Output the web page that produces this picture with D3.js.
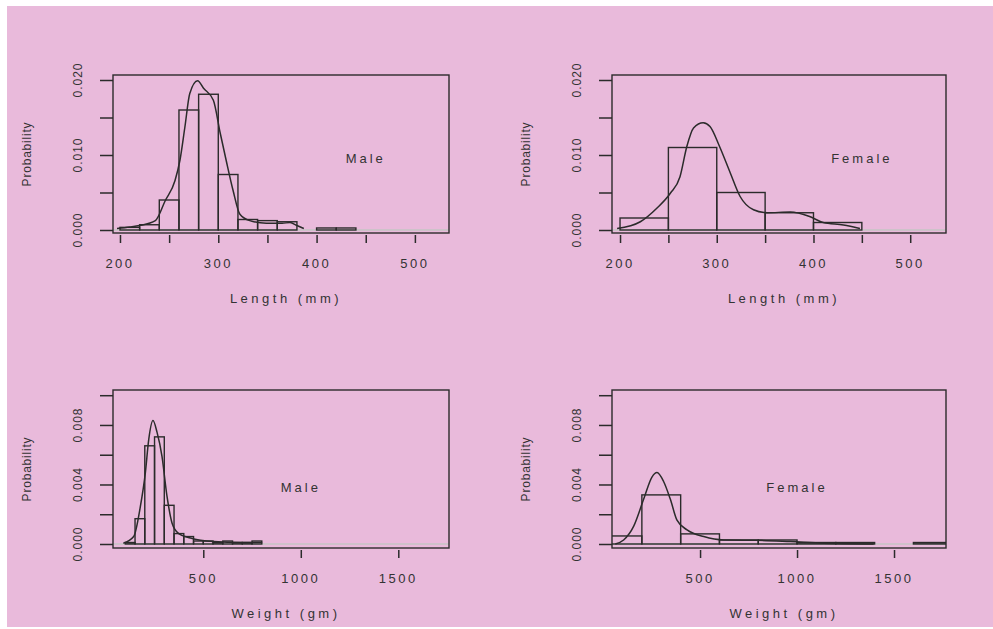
<!DOCTYPE html>
<html>
<head>
<meta charset="utf-8">
<script src="https://cdn.jsdelivr.net/npm/d3@7"></script>
<style>
  body { margin: 0; background: #fff; }
  svg text { font-family: "Liberation Sans", Arial, sans-serif; fill: #333; }
</style>
</head>
<body>
<div id="chart"></div>
<script>
// istogrammi di probabilità: lunghezza e peso, maschi e femmine

// lunghezza maschi - bordi dei bin (mm) e altezze
const maleLengthEdges = [200, 220, 240, 260, 280, 300, 320, 340, 360, 380, 400, 420, 440];
const maleLengthProb = [0.00035, 0.0007, 0.0040, 0.0160, 0.0181, 0.0074, 0.0014, 0.00125, 0.0011, 0, 0.00027, 0.00027];
// curva di densità maschi - lunghezza
const maleLengthCurveX = [197, 210, 220, 236, 246, 256, 261, 266, 271, 279, 285, 295, 302, 308, 315, 322, 332, 349, 365, 373, 380, 387];
const maleLengthCurveY = [0.0002, 0.0004, 0.0006, 0.00125, 0.0039, 0.0066, 0.0093, 0.0137, 0.0182, 0.0199, 0.0189, 0.0173, 0.0129, 0.0093, 0.0053, 0.0021, 0.00125, 0.0009, 0.0009, 0.001, 0.0006, 0.0002];

// lunghezza femmine
const femaleLengthEdges = [200, 250, 300, 350, 400, 450];
const femaleLengthProb = [0.0016, 0.0110, 0.0050, 0.0023, 0.0010];
const femaleLengthCurveX = [197, 221, 238, 252, 262, 269, 276, 286, 293, 303, 314, 324, 338, 352, 376, 396, 410, 431, 448];
const femaleLengthCurveY = [0.0002, 0.0011, 0.0029, 0.0049, 0.0071, 0.0111, 0.0136, 0.0143, 0.0138, 0.0111, 0.0076, 0.0045, 0.0027, 0.0023, 0.0024, 0.0018, 0.0010, 0.00067, 0.0002];

// peso maschi (gm)
const maleWeightEdges = [100, 150, 200, 250, 300, 350, 400, 450, 500, 550, 600, 650, 700, 750, 800];
const maleWeightProb = [0.0001, 0.0017, 0.0066, 0.0072, 0.0026, 0.0007, 0.0005, 0.0002, 0.0002, 0.0001, 0.0002, 0.0001, 0.0001, 0.0002];
const maleWeightCurveX = [90, 143, 177, 203, 220, 242, 263, 288, 314, 340, 374, 434, 554, 691, 802];
const maleWeightCurveY = [0.00005, 0.0005, 0.0025, 0.0048, 0.0070, 0.0083, 0.0075, 0.0059, 0.0032, 0.0014, 0.0007, 0.0004, 0.00016, 0.0001, 0.0001];

// peso femmine
const femaleWeightEdges = [0, 200, 400, 600, 800, 1000, 1200, 1400, 1600, 1800];
const femaleWeightProb = [0.00054, 0.0033, 0.00068, 0.00027, 0.00027, 0.0001, 0.0001, 0, 0.0001];
const femaleWeightCurveX = [63, 106, 158, 209, 252, 278, 312, 347, 381, 433, 519, 622, 794, 966, 1137, 1395];
const femaleWeightCurveY = [0, 0.00027, 0.0012, 0.0030, 0.0045, 0.0048, 0.0042, 0.0030, 0.0016, 0.00095, 0.0005, 0.00027, 0.00025, 0.00016, 0.00005, 0];

// tacche e etichette degli assi
const lengthTicks = [200, 250, 300, 350, 400, 450, 500];
const lengthLabels = [200, 300, 400, 500];
const weightTicks = [500, 1000, 1500];
const lengthProbTicks = [0, 0.005, 0.010, 0.015, 0.020];
const lengthProbLabels = [0, 0.010, 0.020];
const weightProbTicks = [0, 0.002, 0.004, 0.006, 0.008, 0.010];
const weightProbLabels = [0, 0.004, 0.008];

const W = 993, H = 629;
const ink = '#2b2b2b';

const svg = d3.select('#chart').append('svg')
    .attr('width', W)
    .attr('height', H);

// sfondo rosa
svg.append('rect')
    .attr('x', 7).attr('y', 6)
    .attr('width', W - 7).attr('height', H - 8)
    .attr('fill', '#e9badb');

const pannelli = [
    { box: [113, 75, 449, 233], xDom: [192.9, 534.7], yDom: [-0.0004, 0.020667],
      edges: maleLengthEdges, prob: maleLengthProb, cx: maleLengthCurveX, cy: maleLengthCurveY,
      xTicks: lengthTicks, xLabels: lengthLabels, yTicks: lengthProbTicks, yLabels: lengthProbLabels,
      xTitle: 'Length (mm)', nome: 'Male', nomePos: [450, 0.0096] },
    { box: [612, 75, 946, 233], xDom: [191.7, 537], yDom: [-0.0004, 0.020667],
      edges: femaleLengthEdges, prob: femaleLengthProb, cx: femaleLengthCurveX, cy: femaleLengthCurveY,
      xTicks: lengthTicks, xLabels: lengthLabels, yTicks: lengthProbTicks, yLabels: lengthProbLabels,
      xTitle: 'Length (mm)', nome: 'Female', nomePos: [450, 0.0096] },
    { box: [113, 390, 449, 548], xDom: [37, 1760], yDom: [-0.000269, 0.01035],
      edges: maleWeightEdges, prob: maleWeightProb, cx: maleWeightCurveX, cy: maleWeightCurveY,
      xTicks: weightTicks, xLabels: weightTicks, yTicks: weightProbTicks, yLabels: weightProbLabels,
      xTitle: 'Weight (gm)', nome: 'Male', nomePos: [1000, 0.0038] },
    { box: [612, 390, 946, 548], xDom: [46, 1768], yDom: [-0.000269, 0.01035],
      edges: femaleWeightEdges, prob: femaleWeightProb, cx: femaleWeightCurveX, cy: femaleWeightCurveY,
      xTicks: weightTicks, xLabels: weightTicks, yTicks: weightProbTicks, yLabels: weightProbLabels,
      xTitle: 'Weight (gm)', nome: 'Female', nomePos: [1000, 0.0038] }
];

pannelli.forEach((p, i) => {
    const [x0, y0, x1, y1] = p.box;
    const x = d3.scaleLinear().domain(p.xDom).range([x0, x1]);
    const y = d3.scaleLinear().domain(p.yDom).range([y1, y0]);

    const clipId = `clip-${i}`;
    svg.append('clipPath').attr('id', clipId)
        .append('rect')
        .attr('x', x0).attr('y', y0)
        .attr('width', x1 - x0).attr('height', y1 - y0);

    const g = svg.append('g').attr('clip-path', `url(#${clipId})`);

    // linea dello zero grigia
    g.append('line')
        .attr('x1', x0).attr('x2', x1)
        .attr('y1', y(0)).attr('y2', y(0))
        .attr('stroke', '#c4c4c4')
        .attr('stroke-width', 1.5);

    // barre dell'istogramma
    const bins = p.prob.map((v, k) => ({ a: p.edges[k], b: p.edges[k + 1], v }))
        .filter(d => d.v > 0);
    g.selectAll('.barra')
        .data(bins)
        .join('rect')
        .attr('class', 'barra')
        .attr('x', d => x(d.a))
        .attr('y', d => y(d.v))
        .attr('width', d => x(d.b) - x(d.a))
        .attr('height', d => y(0) - y(d.v))
        .attr('fill', 'none')
        .attr('stroke', ink)
        .attr('stroke-width', 1.4);

    // curva di densità
    const punti = p.cx.map((v, k) => ({ x: v, y: p.cy[k] }));
    g.append('path')
        .attr('d', d3.line().x(d => x(d.x)).y(d => y(d.y)).curve(d3.curveMonotoneX)(punti))
        .attr('fill', 'none')
        .attr('stroke', ink)
        .attr('stroke-width', 1.5);

    // riquadro
    svg.append('rect')
        .attr('x', x0).attr('y', y0)
        .attr('width', x1 - x0).attr('height', y1 - y0)
        .attr('fill', 'none')
        .attr('stroke', ink)
        .attr('stroke-width', 1.4);

    // asse x: tacche sotto il riquadro
    const ax = svg.append('g')
        .attr('transform', `translate(0,${y1 + 2})`)
        .call(d3.axisBottom(x).tickValues(p.xTicks).tickSize(8).tickFormat(''));
    ax.select('.domain').remove();
    ax.selectAll('line').attr('stroke', ink).attr('stroke-width', 1.5);

    svg.selectAll(null)
        .data(p.xLabels)
        .join('text')
        .attr('x', d => x(d))
        .attr('y', y1 + 35)
        .attr('text-anchor', 'middle')
        .style('font-size', '13px')
        .style('letter-spacing', '2.5px')
        .text(d => d);

    svg.append('text')
        .attr('x', (x0 + x1) / 2 + 5)
        .attr('y', y1 + 70)
        .attr('text-anchor', 'middle')
        .style('font-size', '13px')
        .style('letter-spacing', '3.5px')
        .text(p.xTitle);

    // asse y
    const ay = svg.append('g')
        .attr('transform', `translate(${x0},0)`)
        .call(d3.axisLeft(y).tickValues(p.yTicks).tickSize(13).tickFormat(''));
    ay.select('.domain').remove();
    ay.selectAll('line').attr('stroke', ink).attr('stroke-width', 1.5);

    svg.selectAll(null)
        .data(p.yLabels)
        .join('text')
        .attr('transform', d => `translate(${x0 - 35},${y(d)}) rotate(-90)`)
        .attr('dy', '0.35em')
        .attr('text-anchor', 'middle')
        .style('font-size', '12px')
        .style('letter-spacing', '1px')
        .text(d => d3.format('.3f')(d));

    svg.append('text')
        .attr('transform', `translate(${x0 - 86},${(y0 + y1) / 2}) rotate(-90)`)
        .attr('dy', '0.35em')
        .attr('text-anchor', 'middle')
        .style('font-size', '12px')
        .style('letter-spacing', '0.8px')
        .text('Probability');

    // etichetta del sesso
    svg.append('text')
        .attr('x', x(p.nomePos[0]))
        .attr('y', y(p.nomePos[1]))
        .attr('dy', '0.35em')
        .attr('text-anchor', 'middle')
        .style('font-size', '13px')
        .style('letter-spacing', '3px')
        .text(p.nome);
});
</script>
</body>
</html>
